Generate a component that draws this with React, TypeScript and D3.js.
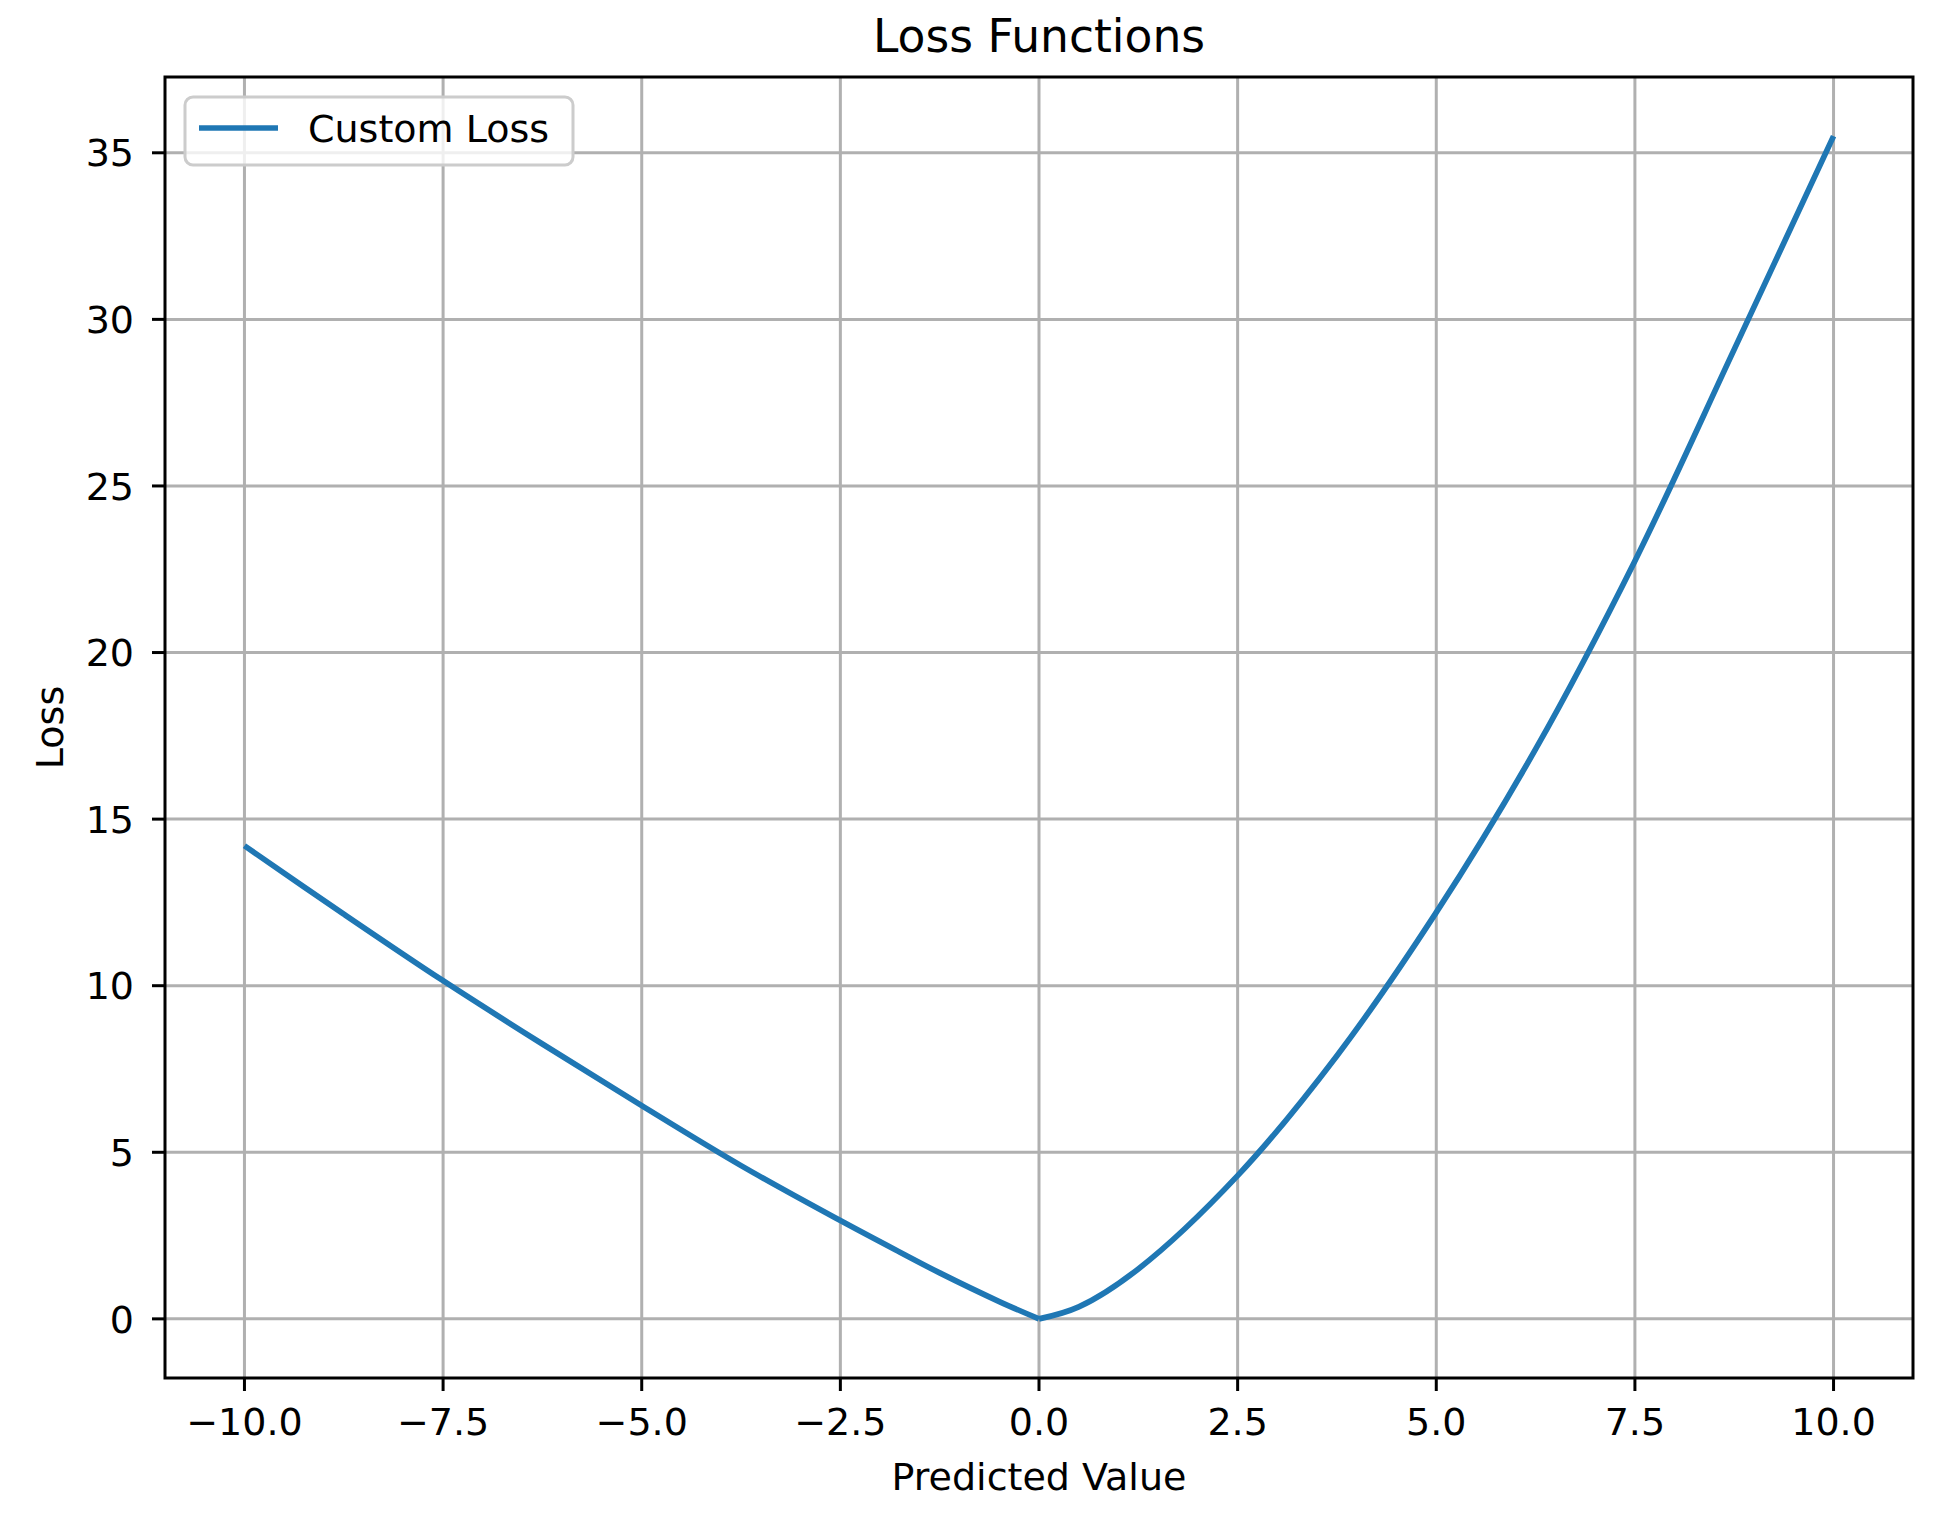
import { useEffect, useRef } from "react"
import * as d3 from "d3"

// values
const leftX = [-10, -8.75, -7.5, -6.25, -5, -3.75, -2.5, -1.75, -1.25, -0.5, 0]
const leftLoss = [14.2, 12.15, 10.15, 8.25, 6.4, 4.6, 2.95, 2.0, 1.38, 0.52, 0]
const rightX = [0.5, 1.25, 2.5, 3.75, 5, 6.25, 7.5, 8.75, 10]
const rightLoss = [0.36, 1.5, 4.3, 7.9, 12.2, 17.1, 22.75, 29.1, 35.5]

const xTicks = [-10, -7.5, -5, -2.5, 0, 2.5, 5, 7.5, 10]
const yTicks = [0, 5, 10, 15, 20, 25, 30, 35]

const seriesName = "Custom Loss"
const title = "Loss Functions"
const xLabel = "Predicted Value"
const yLabel = "Loss"

const W = 1949
const H = 1516

type Pt = { x: number; y: number }

const LossChart = () => {
  const svgRef = useRef<SVGSVGElement>(null)

  useEffect(() => {
    if (!svgRef.current) return
    const svg = d3.select(svgRef.current)
    svg.selectAll("*").remove()

    const m = { left: 165, right: 1913, top: 77, bottom: 1378 }
    const font = "DejaVu Sans, sans-serif"

    const leftPts: Pt[] = leftX.map((x, i) => ({ x, y: leftLoss[i] }))
    const rightPts: Pt[] = rightX.map((x, i) => ({ x, y: rightLoss[i] }))
    // the right branch starts where the left one ends (the kink at the minimum)
    const rightBranch = [leftPts[leftPts.length - 1], ...rightPts]

    const xs = [...leftX, ...rightX]
    const ys = [...leftLoss, ...rightLoss]

    // matplotlib style 5% padding
    const [x0, x1] = d3.extent(xs) as [number, number]
    const [y0, y1] = d3.extent(ys) as [number, number]
    const xPad = (x1 - x0) * 0.05
    const yPad = (y1 - y0) * 0.05

    const x = d3.scaleLinear().domain([x0 - xPad, x1 + xPad]).range([m.left, m.right])
    const y = d3.scaleLinear().domain([y0 - yPad, y1 + yPad]).range([m.bottom, m.top])

    svg.append("rect").attr("width", W).attr("height", H).attr("fill", "white")

    // grid
    const grid = svg.append("g").attr("stroke", "#b0b0b0").attr("stroke-width", 3)
    grid
      .selectAll("line.gx")
      .data(xTicks)
      .join("line")
      .attr("class", "gx")
      .attr("x1", (d) => x(d))
      .attr("x2", (d) => x(d))
      .attr("y1", m.top)
      .attr("y2", m.bottom)
    grid
      .selectAll("line.gy")
      .data(yTicks)
      .join("line")
      .attr("class", "gy")
      .attr("x1", m.left)
      .attr("x2", m.right)
      .attr("y1", (d) => y(d))
      .attr("y2", (d) => y(d))

    // the curve, drawn as two smooth branches meeting at the minimum
    const line = d3
      .line<Pt>()
      .x((d) => x(d.x))
      .y((d) => y(d.y))
      .curve(d3.curveCatmullRom.alpha(0.5))

    svg
      .selectAll("path.loss")
      .data([leftPts, rightBranch])
      .join("path")
      .attr("class", "loss")
      .attr("d", (d) => line(d))
      .attr("fill", "none")
      .attr("stroke", "#1f77b4")
      .attr("stroke-width", 5.7)
      .attr("stroke-linecap", "butt")
      .attr("stroke-linejoin", "round")

    // spines
    svg
      .append("rect")
      .attr("x", m.left)
      .attr("y", m.top)
      .attr("width", m.right - m.left)
      .attr("height", m.bottom - m.top)
      .attr("fill", "none")
      .attr("stroke", "black")
      .attr("stroke-width", 3)

    const fmtX = (d: number) => d3.format(".1f")(d).replace("-", "\u2212")

    // x ticks
    const xt = svg.append("g")
    xt.selectAll("line")
      .data(xTicks)
      .join("line")
      .attr("x1", (d) => x(d))
      .attr("x2", (d) => x(d))
      .attr("y1", m.bottom)
      .attr("y2", m.bottom + 13)
      .attr("stroke", "black")
      .attr("stroke-width", 3)
    xt.selectAll("text")
      .data(xTicks)
      .join("text")
      .attr("x", (d) => x(d))
      .attr("y", 1435)
      .attr("text-anchor", "middle")
      .attr("font-family", font)
      .attr("font-size", 38)
      .text(fmtX)

    // y ticks
    const yt = svg.append("g")
    yt.selectAll("line")
      .data(yTicks)
      .join("line")
      .attr("x1", m.left - 13)
      .attr("x2", m.left)
      .attr("y1", (d) => y(d))
      .attr("y2", (d) => y(d))
      .attr("stroke", "black")
      .attr("stroke-width", 3)
    yt.selectAll("text")
      .data(yTicks)
      .join("text")
      .attr("x", m.left - 31)
      .attr("y", (d) => y(d))
      .attr("dy", "0.36em")
      .attr("text-anchor", "end")
      .attr("font-family", font)
      .attr("font-size", 38)
      .text((d) => String(d))

    // labels
    svg
      .append("text")
      .attr("x", (m.left + m.right) / 2)
      .attr("y", 52)
      .attr("text-anchor", "middle")
      .attr("font-family", font)
      .attr("font-size", 45.6)
      .text(title)
    svg
      .append("text")
      .attr("x", (m.left + m.right) / 2)
      .attr("y", 1490)
      .attr("text-anchor", "middle")
      .attr("font-family", font)
      .attr("font-size", 38)
      .text(xLabel)
    svg
      .append("text")
      .attr("transform", `translate(63, ${(m.top + m.bottom) / 2}) rotate(-90)`)
      .attr("text-anchor", "middle")
      .attr("font-family", font)
      .attr("font-size", 38)
      .text(yLabel)

    // legend
    const lg = svg.append("g")
    lg.append("rect")
      .attr("x", 185)
      .attr("y", 97)
      .attr("width", 388)
      .attr("height", 68)
      .attr("rx", 8)
      .attr("fill", "white")
      .attr("fill-opacity", 0.8)
      .attr("stroke", "#cccccc")
      .attr("stroke-width", 3)
    lg.append("line")
      .attr("x1", 199)
      .attr("x2", 278)
      .attr("y1", 128)
      .attr("y2", 128)
      .attr("stroke", "#1f77b4")
      .attr("stroke-width", 5.7)
    lg.append("text")
      .attr("x", 308)
      .attr("y", 142)
      .attr("font-family", font)
      .attr("font-size", 38)
      .text(seriesName)
  }, [])

  return (
    <svg
      ref={svgRef}
      width={W}
      height={H}
      style={{ position: "absolute", left: 0, top: 0, display: "block" }}
    />
  )
}

export default function App() {
  return <LossChart />
}
